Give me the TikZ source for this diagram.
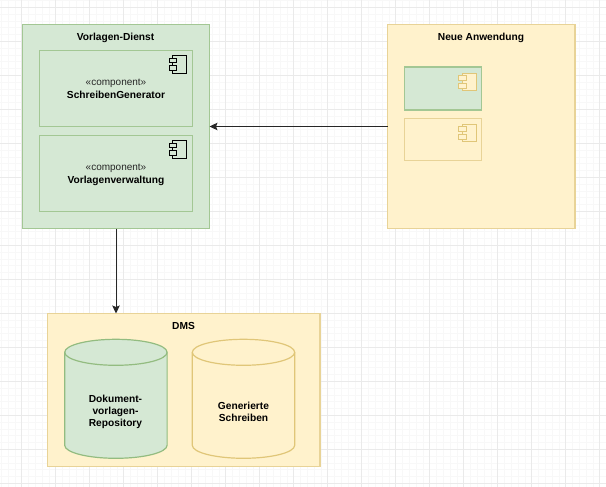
\documentclass[tikz,border=0pt]{standalone}
\usepackage{fontspec}
\setmainfont{Liberation Sans}
\usetikzlibrary{arrows.meta}
\definecolor{gfill}{HTML}{D5E8D4}
\definecolor{gline}{HTML}{A3C794}
\definecolor{gthin}{HTML}{93BC80}
\definecolor{yfill}{HTML}{FFF2CC}
\definecolor{yline}{HTML}{E8D397}
\definecolor{ythin}{HTML}{E0C678}
\definecolor{gridmajor}{HTML}{EAEAEA}
\definecolor{gridminor}{HTML}{F8F8F8}
\tikzset{
  x=1pt,y=-1pt,
  box/.style={rectangle,draw,line width=1.7pt,inner sep=0pt,outer sep=0pt},
  greenbox/.style={box,fill=gfill,draw=gline},
  yellowbox/.style={box,fill=yfill,draw=yline},
  lbl/.style={font=\fontsize{10.2}{12.2}\selectfont\bfseries,align=center,inner sep=0pt,text=black},
  stereo/.style={font=\fontsize{10}{12}\selectfont,inner sep=0pt,text=black!85},
  conn/.style={draw=black!85,line width=1pt,-{Stealth[length=8pt,width=7.5pt,inset=1.5pt]}},
  pics/compicon/.style={code={
    \path[draw,fill,line width=1pt] (3.7,0) rectangle (17.7,17.3);
    \path[draw,fill,line width=1pt] (0,2.3) rectangle (7.7,7);
    \path[draw,fill,line width=1pt] (0,10) rectangle (7.7,15);
  }},
  pics/drum/.style={code={
    \path[draw,fill,line width=1.2pt] (0,13) -- (0,106) arc[start angle=180,end angle=360,x radius=51.2pt,y radius=13pt]
      -- (102.4,13) arc[start angle=0,end angle=180,x radius=51.2pt,y radius=13pt] -- cycle;
    \path[draw,line width=1.2pt] (0,13) arc[start angle=180,end angle=360,x radius=51.2pt,y radius=13pt];
  }}
}
\begin{document}
\begin{tikzpicture}
\useasboundingbox (0,0) rectangle (606,487);
\fill[white] (0,0) rectangle (606,487);
% grid
\foreach \i in {0,...,90} {\draw[gridminor,line width=.6pt] ({1.3+6.8*\i},0) -- ({1.3+6.8*\i},487);}
\foreach \i in {0,...,72} {\draw[gridminor,line width=.6pt] (0,{0.5+6.8*\i}) -- (606,{0.5+6.8*\i});}
\foreach \i in {0,...,17} {\draw[gridmajor,line width=.8pt] ({21.7+34*\i},0) -- ({21.7+34*\i},487);}
\foreach \i in {0,...,14} {\draw[gridmajor,line width=.8pt] (0,{7.3+34*\i}) -- (606,{7.3+34*\i});}

% Vorlagen-Dienst
\node[greenbox,minimum width=187pt,minimum height=204pt] (vd) at (116,126.5) {};
\node[lbl] (vdt) at (115.5,37.4) {Vorlagen-Dienst};
\node[greenbox,minimum width=153pt,minimum height=76pt] (sg) at (116,88.5) {};
\node[stereo] (sgs) at (116,83.7) {«component»};
\node[lbl] (sgt) at (116,94.8) {SchreibenGenerator};
\path (169,56) pic[draw=black,fill=gfill] {compicon};
\node[greenbox,minimum width=153pt,minimum height=76pt] (vv) at (116,173.5) {};
\node[stereo] (vvs) at (116,168.7) {«component»};
\node[lbl] (vvt) at (116,180.4) {Vorlagenverwaltung};
\path (169,141) pic[draw=black,fill=gfill] {compicon};

% Neue Anwendung
\node[yellowbox,minimum width=187.5pt,minimum height=204pt] (na) at (481.25,126.5) {};
\node[lbl] (nat) at (481,37.4) {Neue Anwendung};
\node[greenbox,minimum width=77pt,minimum height=43pt] (na1) at (443,88.5) {};
\path (458.3,73.5) pic[draw=ythin,fill=yfill] {compicon};
\node[yellowbox,minimum width=77pt,minimum height=42pt] (na2) at (443,139.5) {};
\path (458.3,124.3) pic[draw=ythin,fill=yfill] {compicon};

% DMS
\node[yellowbox,minimum width=272.5pt,minimum height=153pt] (dms) at (183.75,390) {};
\node[lbl] (dmst) at (183.5,326.4) {DMS};
\path (64.7,339.3) pic[draw=gthin,fill=gfill] {drum};
\node[lbl] (rept) at (115.5,411.8) {Dokument-\\vorlagen-\\Repository};
\path (192.3,339.3) pic[draw=ythin,fill=yfill] {drum};
\node[lbl] (gent) at (243.5,412) {Generierte\\Schreiben};

% connectors
\draw[conn] (na) -- (vd);
\draw[conn] (vd.south) -- (vd.south |- dms.north);
\end{tikzpicture}
\end{document}
